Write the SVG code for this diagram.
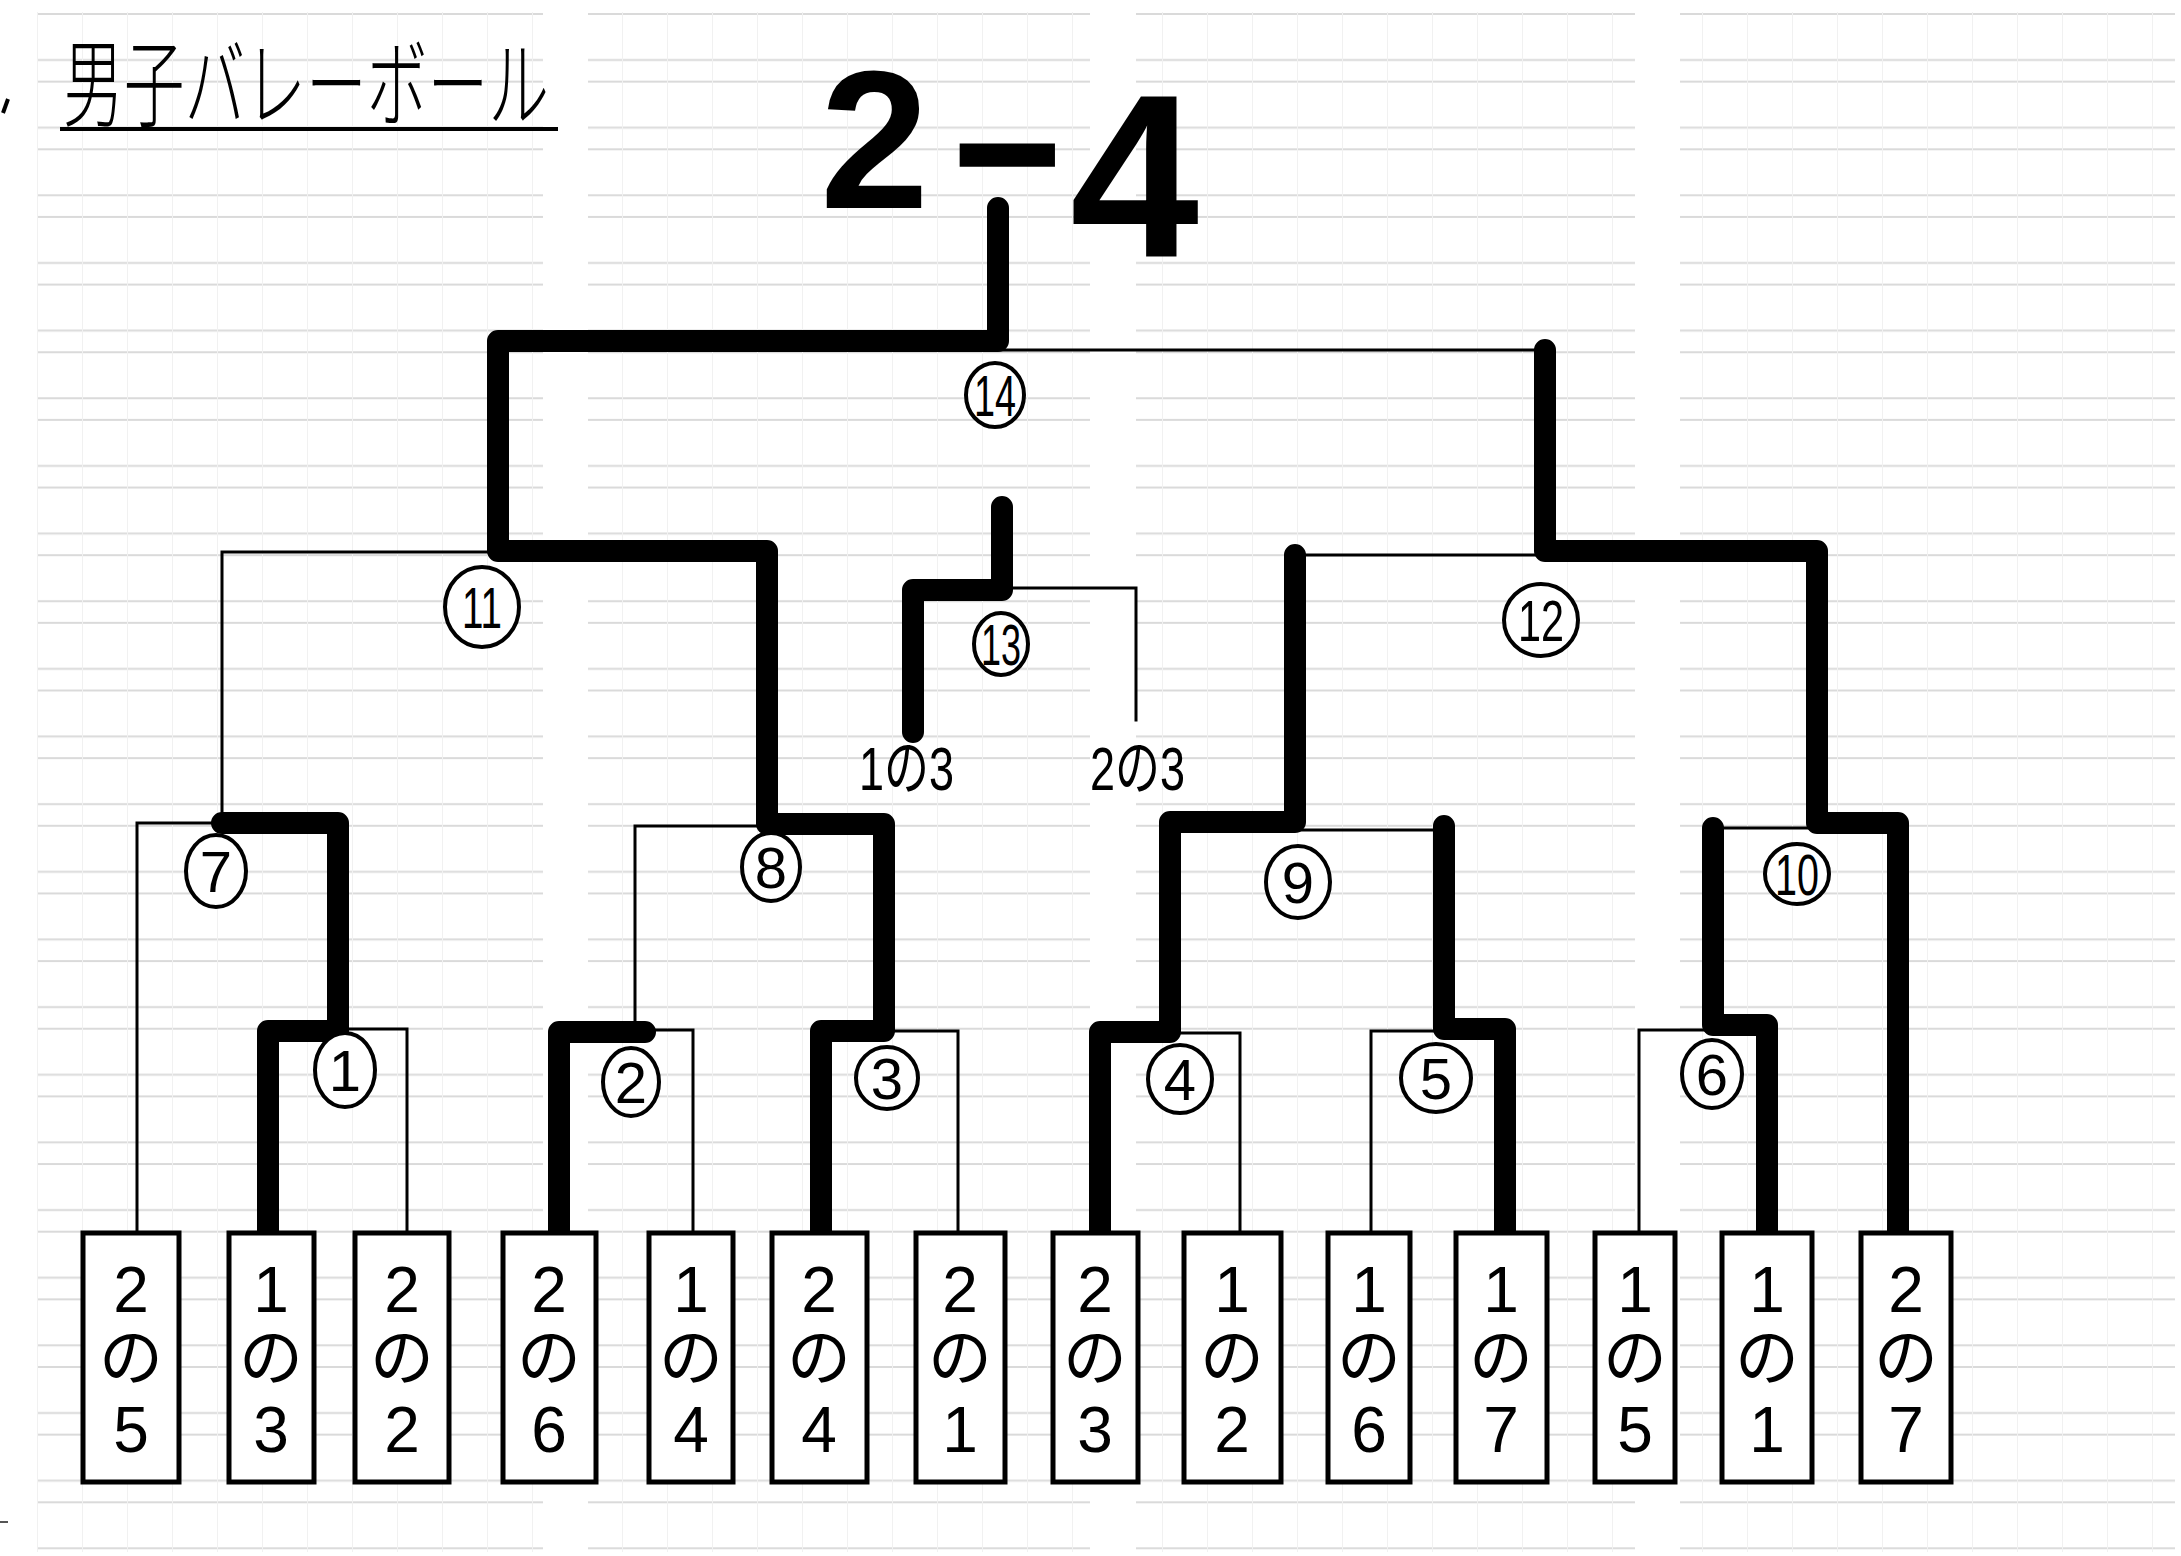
<svg xmlns="http://www.w3.org/2000/svg" width="2181" height="1556" viewBox="0 0 2181 1556">
<style>
.thick{fill:none;stroke:#000;stroke-width:22;stroke-linecap:round;stroke-linejoin:round}
.thin{fill:none;stroke:#000;stroke-width:3;stroke-linecap:square}
.box rect{fill:#fff;stroke:#000;stroke-width:5}
.bt{font-family:"Liberation Sans","Noto Sans CJK JP",sans-serif;font-size:64px;text-anchor:middle;fill:#000}
.lbl ellipse{fill:#fff;stroke:#000;stroke-width:4}
.lbl text{font-family:"Liberation Sans",sans-serif;font-size:58px;text-anchor:middle;fill:#000}
.seed{font-family:"Liberation Sans","Noto Sans CJK JP",sans-serif;font-size:62px;fill:#000}
</style>
<defs>
<pattern id="ruling" patternUnits="userSpaceOnUse" x="37" y="13" width="45" height="67.65">
<rect x="0" y="0" width="45" height="2" fill="#dadada"/>
<rect x="0" y="46" width="45" height="2" fill="#dadada"/>
<rect x="0" y="0" width="1" height="67.65" fill="#f1f1f1"/>
</pattern>
</defs>
<g id="paper">
<rect width="2181" height="1556" fill="#fff"/>
<rect x="37" y="12" width="506" height="1540" fill="url(#ruling)"/>
<rect x="588" y="12" width="502" height="1540" fill="url(#ruling)"/>
<rect x="1136" y="12" width="499" height="1540" fill="url(#ruling)"/>
<rect x="1680" y="12" width="495" height="1540" fill="url(#ruling)"/>
<path d="M8,99 L3,113" stroke="#000" stroke-width="4" fill="none"/>
<path d="M0,1522 H8" stroke="#555" stroke-width="2" fill="none"/>
</g>
<g id="title">
<text x="63" y="119" font-family="Noto Sans CJK JP, sans-serif" font-size="96" textLength="486" lengthAdjust="spacingAndGlyphs" font-weight="300">男子バレーボール</text>
<line x1="60" y1="129" x2="558" y2="129" stroke="#000" stroke-width="4"/>
</g>
<g id="score">
<text font-family="Liberation Sans, sans-serif" font-weight="bold" font-size="196" fill="#000"><tspan x="820" y="208">2</tspan><tspan x="945" y="206" textLength="125" lengthAdjust="spacingAndGlyphs">-</tspan><tspan x="1070" y="257" font-size="232">4</tspan></text>
</g>
<g id="connectors">
<path class="thin" d="M222,823 H137 V1233"/>
<path class="thin" d="M222,823 V552 H498"/>
<path class="thin" d="M338,1029 H407 V1233"/>
<path class="thin" d="M635,1023 V826 H767"/>
<path class="thin" d="M645,1030 H693 V1233"/>
<path class="thin" d="M884,1031 H958 V1233"/>
<path class="thin" d="M998,350 H1545"/>
<path class="thin" d="M1295,555 H1545"/>
<path class="thin" d="M1301,830 H1444"/>
<path class="thin" d="M1170,1033 H1240 V1233"/>
<path class="thin" d="M1371,1233 V1031 H1437"/>
<path class="thin" d="M1639,1233 V1030 H1713"/>
<path class="thin" d="M1713,828 H1817"/>
<path class="thin" d="M1002,588 H1136 V720"/>
<path class="thick" d="M268,1232 V1031 H338 V823 H222"/>
<path class="thick" d="M559,1232 V1032 H645"/>
<path class="thick" d="M821,1232 V1031 H884 V824 H767 V551 H498 V341 H998 V208"/>
<path class="thick" d="M1100,1232 V1032 H1170 V822 H1295 V555"/>
<path class="thick" d="M1444,826 V1029 H1505 V1232"/>
<path class="thick" d="M1767,1232 V1025 H1713 V828"/>
<path class="thick" d="M1898,1232 V823 H1817 V551 H1545 V350"/>
<path class="thick" d="M1002,507 V590 H913 V732"/>
</g>
<g id="seed-1の3"><text class="seed" x="859" y="790" textLength="95" lengthAdjust="spacingAndGlyphs">1の3</text></g>
<g id="seed-2の3"><text class="seed" x="1090" y="790" textLength="95" lengthAdjust="spacingAndGlyphs">2の3</text></g>
<g id="m14" class="lbl"><ellipse cx="995" cy="395" rx="29" ry="32"/><text x="995" y="416" textLength="42" lengthAdjust="spacingAndGlyphs">14</text></g>
<g id="m13" class="lbl"><ellipse cx="1001" cy="644" rx="27" ry="31"/><text x="1001" y="665" textLength="40" lengthAdjust="spacingAndGlyphs">13</text></g>
<g id="m12" class="lbl"><ellipse cx="1541" cy="620" rx="37" ry="36"/><text x="1541" y="641" textLength="46" lengthAdjust="spacingAndGlyphs">12</text></g>
<g id="m11" class="lbl"><ellipse cx="482" cy="607" rx="37" ry="40"/><text x="482" y="628" textLength="40" lengthAdjust="spacingAndGlyphs">11</text></g>
<g id="m10" class="lbl"><ellipse cx="1797" cy="874" rx="32" ry="30"/><text x="1797" y="895" textLength="44" lengthAdjust="spacingAndGlyphs">10</text></g>
<g id="m9" class="lbl"><ellipse cx="1298" cy="882" rx="32" ry="36"/><text x="1298" y="903">9</text></g>
<g id="m8" class="lbl"><ellipse cx="771" cy="867" rx="29" ry="34"/><text x="771" y="888">8</text></g>
<g id="m7" class="lbl"><ellipse cx="216" cy="871" rx="30" ry="36"/><text x="216" y="892">7</text></g>
<g id="m1" class="lbl"><ellipse cx="345" cy="1070" rx="30" ry="37"/><text x="345" y="1091">1</text></g>
<g id="m2" class="lbl"><ellipse cx="631" cy="1082" rx="28" ry="34"/><text x="631" y="1103">2</text></g>
<g id="m3" class="lbl"><ellipse cx="887" cy="1078" rx="31" ry="31"/><text x="887" y="1099">3</text></g>
<g id="m4" class="lbl"><ellipse cx="1180" cy="1079" rx="32" ry="34"/><text x="1180" y="1100">4</text></g>
<g id="m5" class="lbl"><ellipse cx="1436" cy="1078" rx="35" ry="34"/><text x="1436" y="1099">5</text></g>
<g id="m6" class="lbl"><ellipse cx="1712" cy="1074" rx="30" ry="34"/><text x="1712" y="1095">6</text></g>
<g id="t1" class="box"><rect x="83" y="1233" width="96" height="249"/><text class="bt"><tspan x="131" y="1312">2</tspan><tspan x="131" y="1380">の</tspan><tspan x="131" y="1452">5</tspan></text></g>
<g id="t2" class="box"><rect x="229" y="1233" width="85" height="249"/><text class="bt"><tspan x="271" y="1312">1</tspan><tspan x="271" y="1380">の</tspan><tspan x="271" y="1452">3</tspan></text></g>
<g id="t3" class="box"><rect x="355" y="1233" width="94" height="249"/><text class="bt"><tspan x="402" y="1312">2</tspan><tspan x="402" y="1380">の</tspan><tspan x="402" y="1452">2</tspan></text></g>
<g id="t4" class="box"><rect x="503" y="1233" width="93" height="249"/><text class="bt"><tspan x="549" y="1312">2</tspan><tspan x="549" y="1380">の</tspan><tspan x="549" y="1452">6</tspan></text></g>
<g id="t5" class="box"><rect x="649" y="1233" width="84" height="249"/><text class="bt"><tspan x="691" y="1312">1</tspan><tspan x="691" y="1380">の</tspan><tspan x="691" y="1452">4</tspan></text></g>
<g id="t6" class="box"><rect x="772" y="1233" width="95" height="249"/><text class="bt"><tspan x="819" y="1312">2</tspan><tspan x="819" y="1380">の</tspan><tspan x="819" y="1452">4</tspan></text></g>
<g id="t7" class="box"><rect x="916" y="1233" width="89" height="249"/><text class="bt"><tspan x="960" y="1312">2</tspan><tspan x="960" y="1380">の</tspan><tspan x="960" y="1452">1</tspan></text></g>
<g id="t8" class="box"><rect x="1053" y="1233" width="85" height="249"/><text class="bt"><tspan x="1095" y="1312">2</tspan><tspan x="1095" y="1380">の</tspan><tspan x="1095" y="1452">3</tspan></text></g>
<g id="t9" class="box"><rect x="1184" y="1233" width="97" height="249"/><text class="bt"><tspan x="1232" y="1312">1</tspan><tspan x="1232" y="1380">の</tspan><tspan x="1232" y="1452">2</tspan></text></g>
<g id="t10" class="box"><rect x="1328" y="1233" width="82" height="249"/><text class="bt"><tspan x="1369" y="1312">1</tspan><tspan x="1369" y="1380">の</tspan><tspan x="1369" y="1452">6</tspan></text></g>
<g id="t11" class="box"><rect x="1456" y="1233" width="91" height="249"/><text class="bt"><tspan x="1501" y="1312">1</tspan><tspan x="1501" y="1380">の</tspan><tspan x="1501" y="1452">7</tspan></text></g>
<g id="t12" class="box"><rect x="1595" y="1233" width="80" height="249"/><text class="bt"><tspan x="1635" y="1312">1</tspan><tspan x="1635" y="1380">の</tspan><tspan x="1635" y="1452">5</tspan></text></g>
<g id="t13" class="box"><rect x="1722" y="1233" width="90" height="249"/><text class="bt"><tspan x="1767" y="1312">1</tspan><tspan x="1767" y="1380">の</tspan><tspan x="1767" y="1452">1</tspan></text></g>
<g id="t14" class="box"><rect x="1861" y="1233" width="90" height="249"/><text class="bt"><tspan x="1906" y="1312">2</tspan><tspan x="1906" y="1380">の</tspan><tspan x="1906" y="1452">7</tspan></text></g>
</svg>
